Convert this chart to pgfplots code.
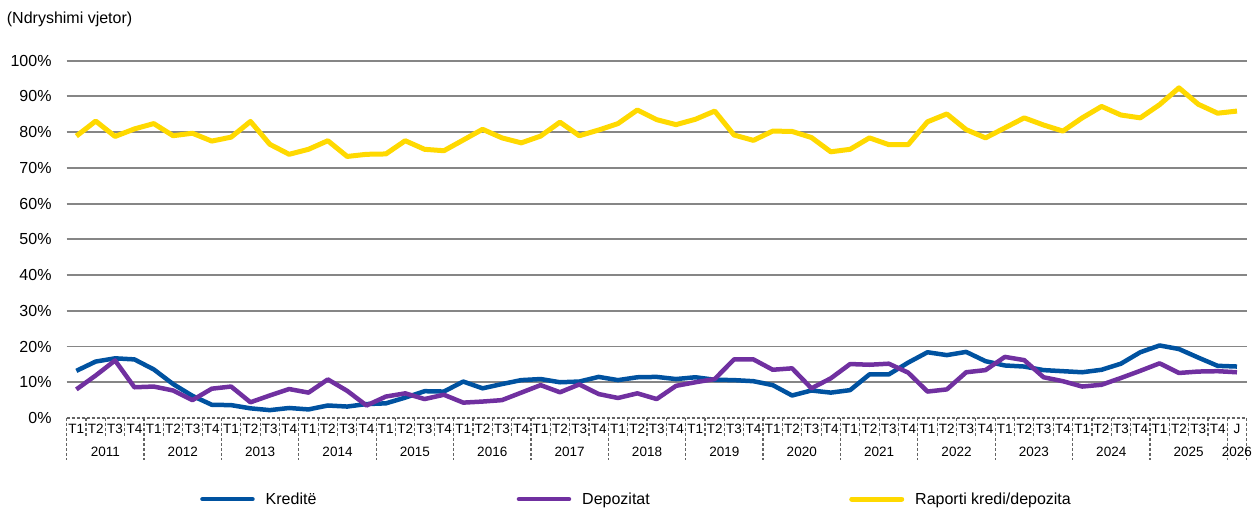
\documentclass[border=0pt]{standalone}
\usepackage{pgfplots}
\pgfplotsset{compat=1.18}
\usepackage{pgfplotstable}
\usepackage{fontspec}
\setmainfont{Liberation Sans}
\definecolor{cK}{RGB}{0,82,160}
\definecolor{cD}{RGB}{112,48,160}
\definecolor{cR}{RGB}{255,217,0}
\definecolor{gridc}{RGB}{134,134,134}
\definecolor{dashc}{RGB}{100,100,100}

\pgfplotstableread{
i K D R
0 13.2 8.0 78.9
1 15.8 11.9 83.1
2 16.7 16.1 78.8
3 16.4 8.6 80.9
4 13.6 8.8 82.4
5 9.5 7.7 79.0
6 6.2 5.0 79.7
7 3.7 8.2 77.5
8 3.6 8.8 78.6
9 2.7 4.4 83.0
10 2.2 6.3 76.6
11 2.8 8.1 73.8
12 2.4 7.1 75.2
13 3.5 10.8 77.6
14 3.2 7.6 73.2
15 3.9 3.5 73.8
16 4.1 6.0 73.9
17 5.7 6.9 77.6
18 7.5 5.3 75.2
19 7.4 6.5 74.8
20 10.2 4.3 77.8
21 8.3 4.6 80.8
22 9.5 5.0 78.4
23 10.6 7.1 77.0
24 10.9 9.2 78.9
25 10.0 7.2 82.8
26 10.2 9.4 79.0
27 11.5 6.7 80.6
28 10.6 5.6 82.4
29 11.4 6.9 86.2
30 11.5 5.3 83.5
31 10.9 9.0 82.1
32 11.4 10.0 83.6
33 10.7 10.9 85.9
34 10.6 16.4 79.2
35 10.3 16.4 77.7
36 9.2 13.5 80.3
37 6.3 13.9 80.2
38 7.7 8.3 78.5
39 7.1 11.1 74.5
40 7.8 15.1 75.2
41 12.2 14.9 78.4
42 12.2 15.2 76.5
43 15.5 12.7 76.5
44 18.4 7.4 82.9
45 17.6 8.0 85.1
46 18.5 12.8 80.7
47 15.9 13.4 78.4
48 14.7 17.1 81.2
49 14.4 16.2 84.0
50 13.4 11.4 82.0
51 13.1 10.3 80.3
52 12.8 8.8 84.0
53 13.5 9.3 87.2
54 15.2 11.2 84.8
55 18.4 13.2 84.0
56 20.3 15.3 87.7
57 19.3 12.6 92.4
58 16.9 13.0 87.8
59 14.6 13.1 85.3
60 14.4 12.8 85.9
}\data

\begin{document}
\begin{tikzpicture}
\begin{axis}[
  at={(0pt,0pt)}, anchor=south west,
  scale only axis, width=1180pt, height=357.3pt,
  xmin=-0.5, xmax=60.5, ymin=0, ymax=100,
  clip=false,
  axis line style={draw=none},
  tick style={draw=none},
  major tick length=0pt,
  xtick={0,...,60},
  xticklabels={T1,T2,T3,T4,T1,T2,T3,T4,T1,T2,T3,T4,T1,T2,T3,T4,T1,T2,T3,T4,
               T1,T2,T3,T4,T1,T2,T3,T4,T1,T2,T3,T4,T1,T2,T3,T4,T1,T2,T3,T4,
               T1,T2,T3,T4,T1,T2,T3,T4,T1,T2,T3,T4,T1,T2,T3,T4,T1,T2,T3,T4,J},
  xticklabel style={font=\fontsize{13.5}{14}\selectfont, anchor=center, inner sep=0pt, yshift=-11pt},
  ytick={0,10,...,100},
  yticklabel={\pgfmathprintnumber{\tick}\%},
  yticklabel style={font=\fontsize{16}{17}\selectfont, anchor=east, inner sep=0pt, xshift=-15pt},
  /pgf/number format/assume math mode=true,
  extra y ticks={10,20,...,100},
  extra y tick labels={},
  extra y tick style={grid=major},
  grid style={gridc, line width=1.9pt},
  legend columns=3,
  legend style={at={(0.113,-0.227)}, anchor=west, draw=none, fill=none,
    inner sep=0pt, column sep=0pt, font=\fontsize{16}{17}\selectfont,
    /tikz/every odd column/.append style={column sep=9pt}},
  legend image code/.code={\draw[#1, line cap=round] (2pt,0pt) -- (52pt,0pt);},
]
\addplot[cK, line width=4.5pt, line join=round] table[x=i, y=K]{\data};
\addlegendentry{\makebox[249pt][l]{Kreditë}}
\addplot[cD, line width=4.5pt, line join=round] table[x=i, y=D]{\data};
\addlegendentry{\makebox[265pt][l]{Depozitat}}
\addplot[cR, line width=5pt, line join=round] table[x=i, y=R]{\data};
\addlegendentry{Raporti kredi/depozita}

% category frame
\draw[dashc, line width=1.2pt, dash pattern=on 3pt off 2pt] (axis cs:-0.5,0) -- (axis cs:60.5,0);
\pgfplotsinvokeforeach{0,...,14}{
  \draw[dashc, line width=1.2pt, dash pattern=on 3pt off 2pt] (axis cs:{4*#1-0.5},0) -- ([yshift=-42pt]axis cs:{4*#1-0.5},0);
  \draw[dashc, line width=1.2pt, dash pattern=on 3pt off 2pt] (axis cs:{4*#1+0.5},0) -- ([yshift=-18pt]axis cs:{4*#1+0.5},0);
  \draw[dashc, line width=1.2pt, dash pattern=on 3pt off 2pt] (axis cs:{4*#1+1.5},0) -- ([yshift=-18pt]axis cs:{4*#1+1.5},0);
  \draw[dashc, line width=1.2pt, dash pattern=on 3pt off 2pt] (axis cs:{4*#1+2.5},0) -- ([yshift=-18pt]axis cs:{4*#1+2.5},0);
}
\draw[dashc, line width=1.2pt, dash pattern=on 3pt off 2pt] (axis cs:59.5,0) -- ([yshift=-42pt]axis cs:59.5,0);
\draw[dashc, line width=1.2pt, dash pattern=on 3pt off 2pt] (axis cs:60.5,0) -- ([yshift=-42pt]axis cs:60.5,0);

% year labels
\begin{scope}[every node/.style={font=\fontsize{13.5}{14}\selectfont, inner sep=0pt}]
\node at ([yshift=-33.5pt]axis cs:1.5,0) {2011};
\node at ([yshift=-33.5pt]axis cs:5.5,0) {2012};
\node at ([yshift=-33.5pt]axis cs:9.5,0) {2013};
\node at ([yshift=-33.5pt]axis cs:13.5,0) {2014};
\node at ([yshift=-33.5pt]axis cs:17.5,0) {2015};
\node at ([yshift=-33.5pt]axis cs:21.5,0) {2016};
\node at ([yshift=-33.5pt]axis cs:25.5,0) {2017};
\node at ([yshift=-33.5pt]axis cs:29.5,0) {2018};
\node at ([yshift=-33.5pt]axis cs:33.5,0) {2019};
\node at ([yshift=-33.5pt]axis cs:37.5,0) {2020};
\node at ([yshift=-33.5pt]axis cs:41.5,0) {2021};
\node at ([yshift=-33.5pt]axis cs:45.5,0) {2022};
\node at ([yshift=-33.5pt]axis cs:49.5,0) {2023};
\node at ([yshift=-33.5pt]axis cs:53.5,0) {2024};
\node at ([yshift=-33.5pt]axis cs:57.5,0) {2025};
\node at ([yshift=-33.5pt]axis cs:60,0) {2026};
\end{scope}

\node[anchor=west, inner sep=0pt, font=\fontsize{16}{17}\selectfont] at ([xshift=-60pt, yshift=41pt]rel axis cs:0,1) {(Ndryshimi vjetor)};
\end{axis}
\pgfresetboundingbox
\path[use as bounding box] (-66.7pt,-92pt) rectangle (1187.3pt,418pt);
\end{tikzpicture}
\end{document}
